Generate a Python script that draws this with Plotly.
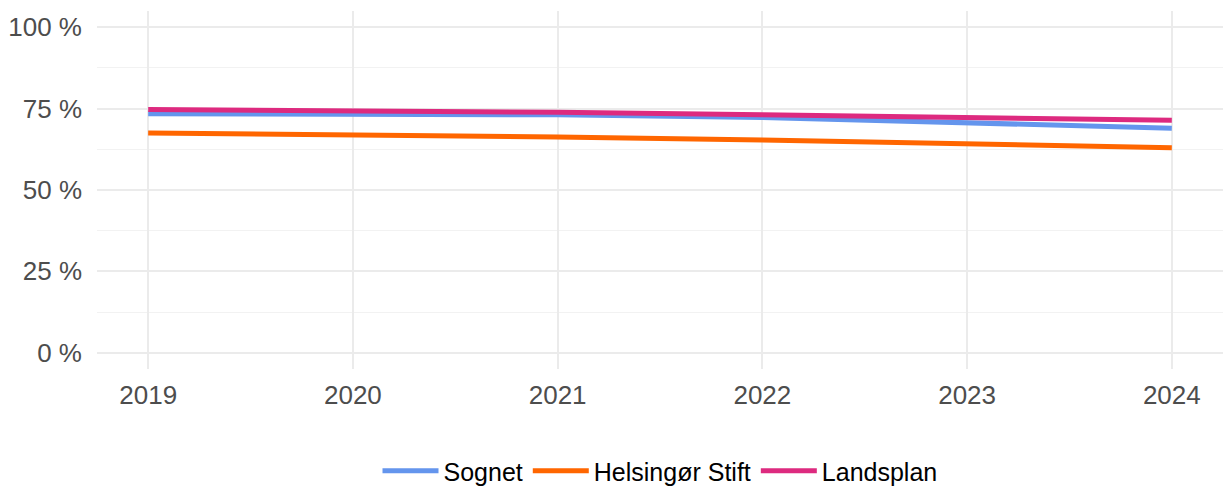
import plotly.graph_objects as go

years = [2019, 2020, 2021, 2022, 2023, 2024]
sognet = [73.4, 73.4, 73.1, 72.3, 70.6, 69.0]
helsingor_stift = [67.5, 67.0, 66.3, 65.4, 64.2, 63.0]
landsplan = [74.7, 74.3, 73.9, 73.1, 72.1, 71.4]

y_ticks = [0, 25, 50, 75, 100]
y_tick_labels = ["0 %", "25 %", "50 %", "75 %", "100 %"]

series = [
    ("Sognet", sognet, "#6495ED"),
    ("Helsingør Stift", helsingor_stift, "#FF6600"),
    ("Landsplan", landsplan, "#DD2A7F"),
]

fig = go.Figure()
for name, values, color in series:
    fig.add_trace(go.Scatter(
        x=years, y=values, name=name, mode="lines",
        line=dict(color=color, width=5),
    ))

grid = "#EBEBEB"
fig.update_layout(
    width=1223, height=488,
    margin=dict(l=97, r=0, t=11, b=119, autoexpand=False),
    plot_bgcolor="white", paper_bgcolor="white",
    font=dict(family="Liberation Sans, Arial, sans-serif", size=26, color="#4D4D4D"),
    showlegend=True,
    legend=dict(
        orientation="h", x=0.5, xanchor="center",
        yref="container", y=17 / 488, yanchor="middle",
        font=dict(size=25, color="black"), itemwidth=56,
        tracegroupgap=0,
    ),
    xaxis=dict(
        range=[2018.75, 2024.25], tickvals=years, ticktext=[str(y) for y in years],
        showgrid=True, gridcolor=grid, gridwidth=2, zeroline=False,
        showline=False, ticks="", ticklabelstandoff=8,
    ),
    yaxis=dict(
        range=[-5, 105], tickvals=y_ticks, ticktext=y_tick_labels,
        showgrid=True, gridcolor=grid, gridwidth=2, zeroline=False,
        showline=False, ticks="", ticklabelstandoff=14,
        minor=dict(tickvals=[12.5, 37.5, 62.5, 87.5], showgrid=True,
                   gridcolor="#F2F2F2", gridwidth=1),
    ),
)

fig.write_html("out.html")
